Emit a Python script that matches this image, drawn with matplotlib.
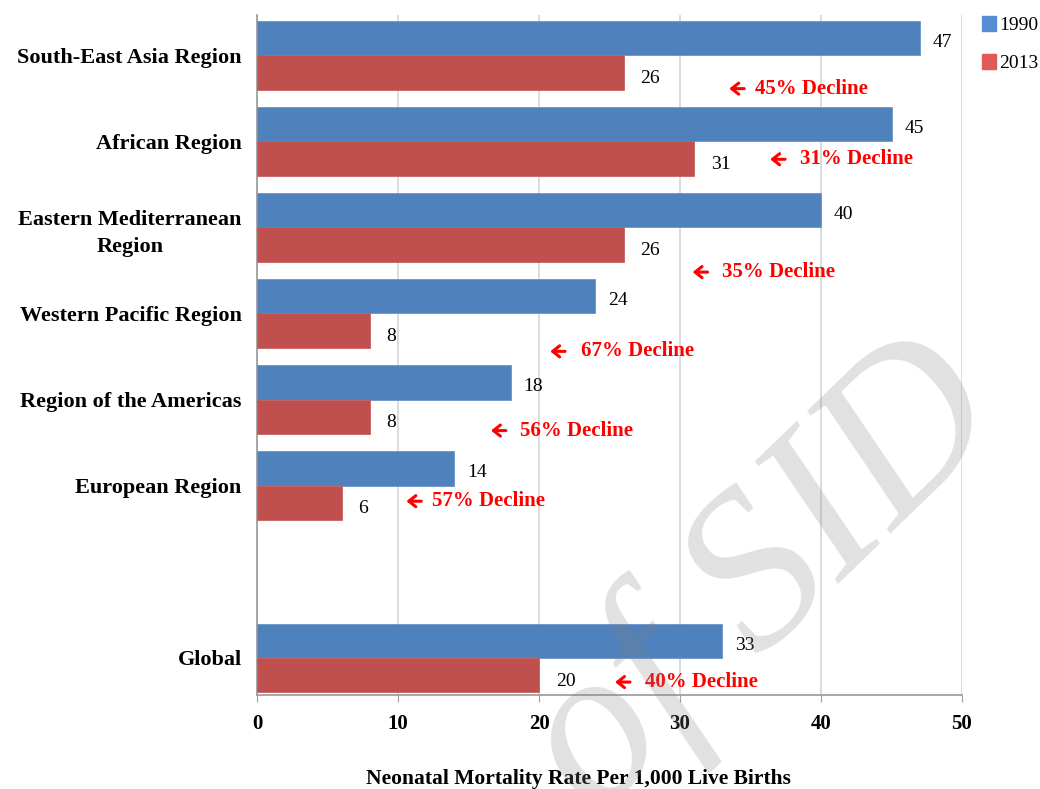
import matplotlib
matplotlib.use("Agg")
import matplotlib.pyplot as plt
from matplotlib.patches import Patch

# ---- data ----
regions = ["South-East Asia Region", "African Region", "Eastern Mediterranean\nRegion",
           "Western Pacific Region", "Region of the Americas", "European Region", "", "Global"]
rate_1990 = [47, 45, 40, 24, 18, 14, None, 33]
rate_2013 = [26, 31, 26, 8, 8, 6, None, 20]
declines = ["45% Decline", "31% Decline", "35% Decline", "67% Decline",
            "56% Decline", "57% Decline", None, "40% Decline"]
xticks = [0, 10, 20, 30, 40, 50]
series_names = ["1990", "2013"]

# annotation placement (data coords): arrow head x, text x, y
ann_head_x = [33.3, 36.2, 30.7, 20.6, 16.4, 10.4, None, 25.2]
ann_text_x = [35.3, 38.5, 33.0, 23.0, 18.65, 12.4, None, 27.5]
ann_y = [0.39, 1.21, 2.52, 3.44, 4.36, 5.18, None, 7.28]

BLUE = "#4F81BD"
RED = "#C0504D"
SERIF = ["Liberation Serif", "DejaVu Serif"]
plt.rcParams["font.family"] = SERIF

fig = plt.figure(figsize=(10.4, 7.89), dpi=100)
ax = fig.add_axes([257 / 1040, 1 - 695 / 789, (962 - 257) / 1040, (695 - 15) / 789])

h = 0.40
for i, (a, b) in enumerate(zip(rate_1990, rate_2013)):
    if a is None:
        continue
    ax.barh(i - h / 2, a, height=h, color=BLUE, edgecolor="#6A95C8", linewidth=0.6, zorder=3)
    ax.barh(i + h / 2, b, height=h, color=RED, edgecolor="#C86060", linewidth=0.6, zorder=3)
    ax.text(a + 0.9, i - h / 2 + 0.05, str(a), va="center", ha="left", fontsize=14, color="black")
    ax.text(b + 1.2, i + h / 2 + 0.07, str(b), va="center", ha="left", fontsize=14, color="black")

for i, d in enumerate(declines):
    if d is None:
        continue
    ax.annotate("", xy=(ann_head_x[i], ann_y[i]), xytext=(ann_head_x[i] + 1.45, ann_y[i]),
                arrowprops=dict(arrowstyle="->,head_length=0.5,head_width=0.4", color="#FF0000", lw=2.2),
                zorder=5)
    ax.text(ann_text_x[i], ann_y[i], d, color="#FF0000", fontsize=15, fontweight="bold",
            va="center", ha="left", zorder=5)

ax.set_xlim(0, 50)
ax.set_ylim(7.43, -0.465)
ax.set_yticks(range(len(regions)))
ax.set_yticklabels(regions, fontsize=16, fontweight="bold", multialignment="center", linespacing=1.5)
ax.tick_params(axis="y", length=0, pad=11)
ax.set_xticks(xticks)
ax.set_xticklabels([str(t) for t in xticks], fontsize=15, fontweight="bold")
ax.tick_params(axis="x", length=5, color="#A0A0A0", pad=9)
ax.grid(axis="x", color="#D9D9D9", lw=1.3, zorder=0)
ax.set_axisbelow(True)
for s in ["top", "right"]:
    ax.spines[s].set_visible(False)
ax.spines["left"].set_color("#A0A0A0")
ax.spines["bottom"].set_color("#A0A0A0")
ax.spines["left"].set_linewidth(1.3)
ax.spines["bottom"].set_linewidth(1.3)

fig.text(578 / 1040, 1 - 779 / 789, "Neonatal Mortality Rate Per 1,000 Live Births",
         ha="center", va="center", fontsize=15.5, fontweight="bold")

handles = [Patch(facecolor="#558ED5", edgecolor="#558ED5"), Patch(facecolor="#E05A5A", edgecolor="#E05A5A")]
fig.legend(handles, series_names, loc="upper left", bbox_to_anchor=(974 / 1040, 1 - 8 / 789),
           frameon=False, fontsize=14, handlelength=0.75, handleheight=0.85, handletextpad=0.15,
           labelspacing=1.0, borderaxespad=0)

# watermark
fig.text(1012 / 1040, 1 - 428 / 789, "Archive of SID", fontsize=160, style="italic",
         color="#808080", alpha=0.24, rotation=44, ha="right", va="baseline",
         rotation_mode="anchor", zorder=10, family=SERIF)

fig.savefig("out.png", dpi=100)
